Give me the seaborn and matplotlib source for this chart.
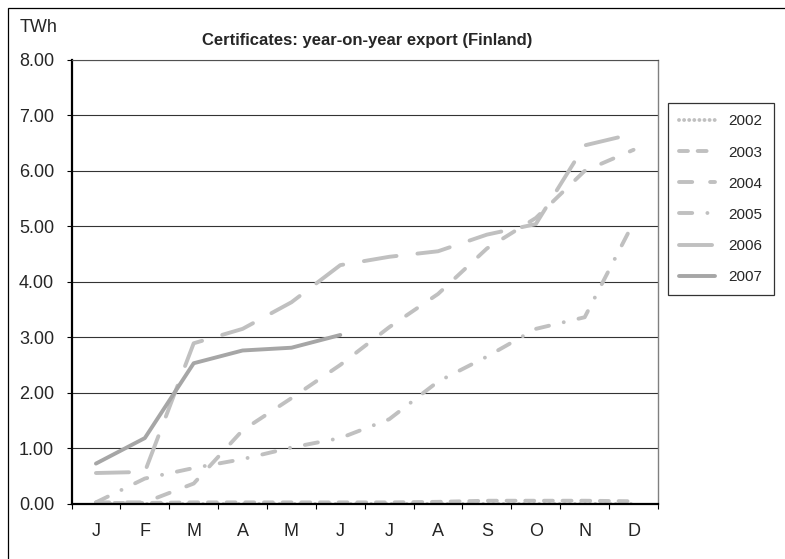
import numpy as np
import pandas as pd
import matplotlib
matplotlib.use('Agg')
import matplotlib.pyplot as plt
import matplotlib.patches as mpatches
import seaborn as sns

# --- DATA (TWh, cumulative export per month) ---
MONTHS = ['J', 'F', 'M', 'A', 'M', 'J', 'J', 'A', 'S', 'O', 'N', 'D']
YEARS = ['2002', '2003', '2004', '2005', '2006', '2007']

v2002 = [0.00, 0.00, 0.00, 0.00, 0.00, 0.00, 0.00, 0.00, 0.00, 0.00, 0.00, 0.00]
v2003 = [0.01, 0.01, 0.02, 0.02, 0.02, 0.02, 0.02, 0.03, 0.05, 0.05, 0.05, 0.04]
v2004 = [0.02, 0.02, 0.36, 1.32, 1.90, 2.50, 3.18, 3.78, 4.60, 5.15, 6.00, 6.38]
v2005 = [0.02, 0.45, 0.64, 0.80, 1.01, 1.18, 1.52, 2.20, 2.65, 3.15, 3.36, 5.07]
v2006 = [0.55, 0.57, 2.89, 3.15, 3.63, 4.30, 4.45, 4.55, 4.85, 5.04, 6.46, 6.67]
v2007 = [0.72, 1.18, 2.53, 2.76, 2.81, 3.04]

SERIES = {'2002': v2002, '2003': v2003, '2004': v2004,
          '2005': v2005, '2006': v2006, '2007': v2007}

# --- STYLE ---
LIGHT = '#C0C0C0'
DARK = '#A6A6A6'
STYLES = {
    '2002': dict(color=LIGHT, linestyle=(0, (0.01, 1.3))),
    '2003': dict(color=LIGHT, linestyle=(0, (2.3, 2.5))),
    '2004': dict(color=LIGHT, linestyle=(0, (3.4, 4.6))),
    '2005': dict(color=LIGHT, linestyle=(0, (3.4, 3.9, 0.01, 3.9))),
    '2006': dict(color=LIGHT, linestyle=(0, (8.5, 5.4))),
    '2007': dict(color=DARK, linestyle='-'),
}
LW = 2.8

sns.set_style('white')
plt.rcParams['font.family'] = ['Liberation Sans', 'DejaVu Sans']

W, H = 785, 559
fig = plt.figure(figsize=(W / 100, H / 100), dpi=100)
ax = fig.add_axes([71.5 / W, (H - 503.5) / H, (658 - 71.5) / W, 443.5 / H])

for year in YEARS:
    vals = SERIES[year]
    df = pd.DataFrame({'month': np.arange(len(vals)), 'TWh': vals})
    sns.lineplot(data=df, x='month', y='TWh', ax=ax, label=year,
                 linewidth=LW, dash_capstyle='round', solid_capstyle='round',
                 **STYLES[year])

ax.set_xlim(-0.5, len(MONTHS) - 0.5)
ax.set_ylim(0, 8)
ax.set_xlabel('')
ax.set_ylabel('')

# y axis
yt = np.arange(0, 9)
ax.set_yticks(yt)
ax.set_yticklabels([f'{v:.2f}' for v in yt], fontsize=13)
ax.tick_params(axis='y', direction='out', length=3.6, width=0.8,
               color='black', pad=9, left=True)
ax.yaxis.grid(True, color='#333333', linewidth=0.8)
ax.xaxis.grid(False)

# x axis: ticks between categories, labels centred
ax.set_xticks(np.arange(-0.5, len(MONTHS), 1))
ax.set_xticklabels([])
ax.set_xticks(np.arange(len(MONTHS)), minor=True)
ax.set_xticklabels(MONTHS, minor=True, fontsize=13)
ax.tick_params(axis='x', which='major', direction='out', length=3.6,
               width=0.8, color='black', bottom=True)
ax.tick_params(axis='x', which='minor', length=0, pad=14)

for side in ['left', 'bottom']:
    ax.spines[side].set_color('black')
    ax.spines[side].set_linewidth(1.6)
ax.spines['right'].set_color('#808080')
ax.spines['right'].set_linewidth(1.0)
ax.spines['top'].set_color('#505050')
ax.spines['top'].set_linewidth(0.8)

# legend
leg = ax.legend(loc='upper left', bbox_to_anchor=(668 / W, 1 - 103 / H),
                bbox_transform=fig.transFigure, borderaxespad=0,
                frameon=True, fancybox=False, edgecolor='black',
                fontsize=11, handlelength=2.3, handletextpad=0.9,
                labelspacing=1.12, borderpad=0.75)
leg.get_frame().set_linewidth(0.9)
for h in leg.get_lines():
    h.set_linewidth(LW)

fig.text(20 / W, 1 - 28 / H, 'TWh', ha='left', va='center', fontsize=13)
fig.text(367 / W, 1 - 40 / H, 'Certificates: year-on-year export (Finland)',
         ha='center', va='center', fontsize=12, fontweight='bold')

# outer chart border
fig.patches.append(mpatches.Rectangle((8 / W, -0.05), 1.0, (H - 7.5) / H + 0.05,
                                      transform=fig.transFigure, fill=False,
                                      edgecolor='black', linewidth=0.9))

fig.savefig('out.png', dpi=100)
